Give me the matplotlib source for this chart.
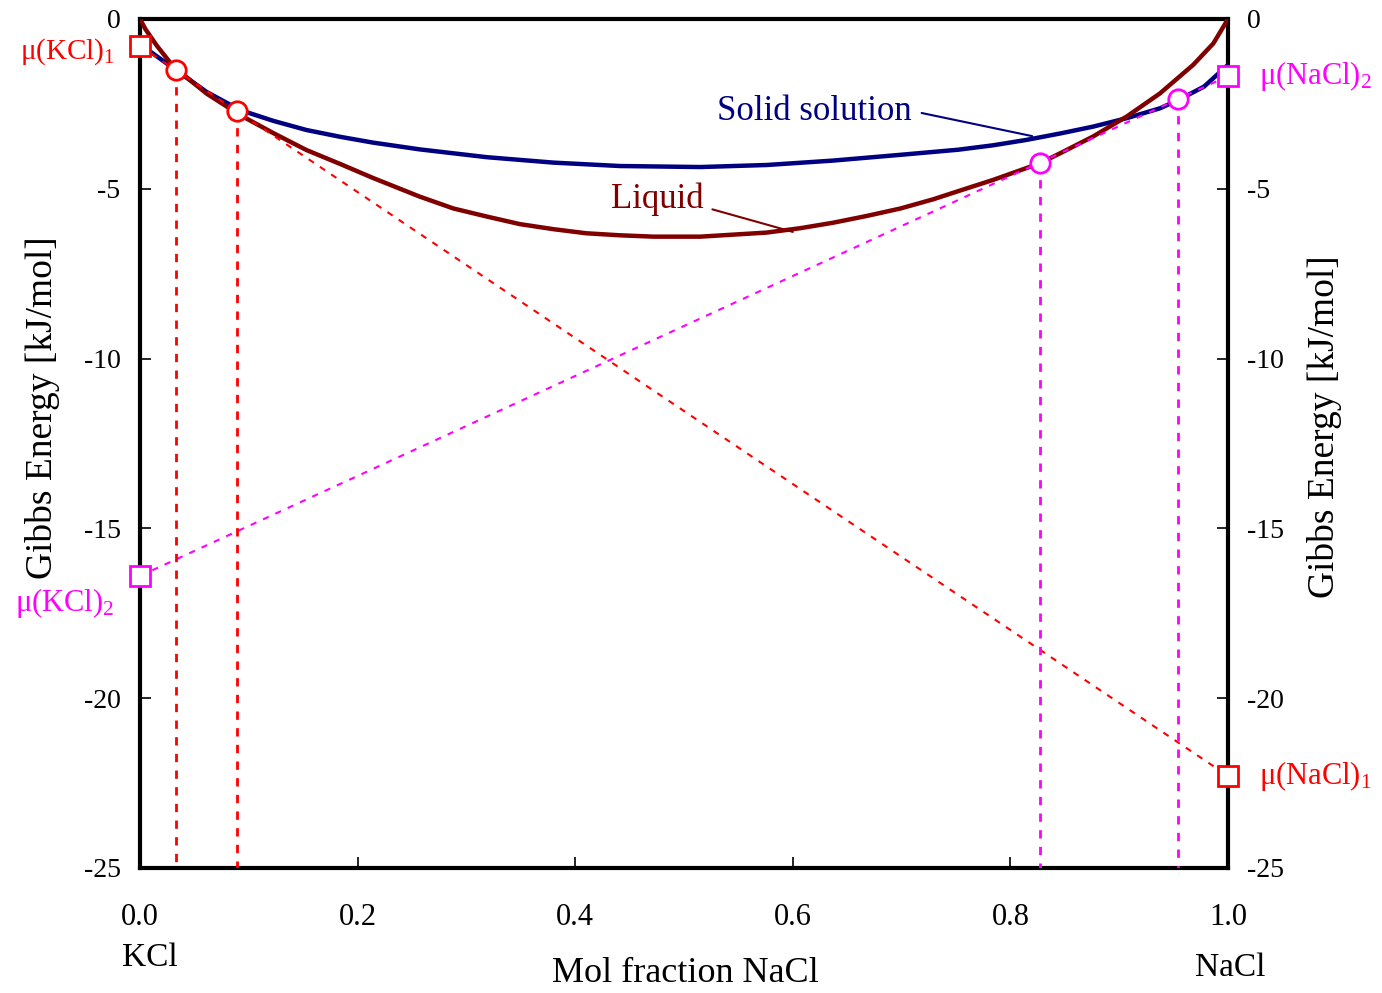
import numpy as np
import matplotlib
matplotlib.use("Agg")
import matplotlib.pyplot as plt

plt.rcParams['font.family'] = ['Liberation Serif', 'DejaVu Serif']
plt.rcParams['mathtext.fontset'] = 'custom'
plt.rcParams['mathtext.rm'] = 'Liberation Serif'
plt.rcParams['mathtext.it'] = 'Liberation Serif:italic'
plt.rcParams['axes.unicode_minus'] = False

# Liquid curve
x_liq = [0, 0.005, 0.0153, 0.0306, 0.0613, 0.092, 0.1225, 0.153, 0.184, 0.214,
         0.257, 0.288, 0.319, 0.349, 0.38, 0.41, 0.441, 0.472, 0.515, 0.576,
         0.607, 0.637, 0.668, 0.699, 0.729, 0.752, 0.784, 0.827, 0.846, 0.876,
         0.907, 0.9375, 0.968, 0.9865, 1.0]
y_liq = [0, -0.30, -0.78, -1.40, -2.20, -2.83, -3.36, -3.86, -4.27, -4.68,
         -5.23, -5.58, -5.82, -6.04, -6.19, -6.31, -6.37, -6.41, -6.41, -6.29,
         -6.16, -6.00, -5.80, -5.58, -5.31, -5.07, -4.74, -4.25, -3.95, -3.46,
         -2.87, -2.19, -1.35, -0.72, 0]

# Solid solution curve
x_sol = [0, 0.009, 0.0306, 0.0613, 0.0919, 0.1225, 0.153, 0.184, 0.214, 0.257,
         0.3187, 0.38, 0.441, 0.515, 0.576, 0.637, 0.699, 0.752, 0.784, 0.815,
         0.846, 0.876, 0.907, 0.9375, 0.956, 0.978, 1.0]
y_sol = [-0.72, -0.95, -1.45, -2.15, -2.68, -3.00, -3.27, -3.47, -3.64, -3.84,
         -4.07, -4.23, -4.33, -4.36, -4.30, -4.17, -4.00, -3.85, -3.72, -3.56,
         -3.37, -3.17, -2.92, -2.63, -2.36, -1.99, -1.35]

# tangent points / chemical potentials
x_tan1 = [0.033, 0.089]
y_tan1 = [-1.50, -2.71]
x_tan2 = [0.827, 0.954]
y_tan2 = [-4.24, -2.36]
mu1 = [-0.80, -22.29]   # mu(KCl)1, mu(NaCl)1
mu2 = [-16.40, -1.68]   # mu(KCl)2, mu(NaCl)2

fig = plt.figure(figsize=(13.82, 9.93), dpi=100)
ax = fig.add_axes([0.1013, 0.1259, 0.7873, 0.855])

ax.plot(x_sol, y_sol, color='#000080', lw=3.2, zorder=3)
ax.plot(x_liq, y_liq, color='#800000', lw=3.2, zorder=3)

red = '#ff0000'
mag = '#ff00ff'
ax.plot([0, 1], mu1, color=red, lw=1.5, ls=(0, (3, 3.5)), zorder=4)
ax.plot([0, 1], mu2, color=mag, lw=1.5, ls=(0, (3, 3.5)), zorder=4)
for xv, yv in zip(x_tan1, y_tan1):
    ax.plot([xv, xv], [yv, -25], color=red, lw=2, ls=(0, (3, 3)), zorder=4)
for xv, yv in zip(x_tan2, y_tan2):
    ax.plot([xv, xv], [yv, -25], color=mag, lw=2, ls=(0, (3, 3)), zorder=4)

ax.plot(x_tan1, y_tan1, 'o', ms=14, mfc='white', mec=red, mew=2, zorder=5)
ax.plot(x_tan2, y_tan2, 'o', ms=14, mfc='white', mec=mag, mew=2, zorder=5)
ax.plot([0, 1], mu1, 's', ms=15, mfc='white', mec=red, mew=2, zorder=6, clip_on=False)
ax.plot([0, 1], mu2, 's', ms=15, mfc='white', mec=mag, mew=2, zorder=6, clip_on=False)

ax.set_xlim(0, 1)
ax.set_ylim(-25, 0)
ax.set_xticks([0, 0.2, 0.4, 0.6, 0.8, 1.0])
ax.set_xticklabels(['0.0', '0.2', '0.4', '0.6', '0.8', '1.0'])
ax.set_yticks([-25, -20, -15, -10, -5, 0])
ax.tick_params(axis='x', direction='in', length=8, width=1.2, labelsize=22, pad=25)
ax.tick_params(axis='y', direction='in', length=8, width=1.2, labelsize=20, pad=14,
               right=True, labelright=True)
for s in ax.spines.values():
    s.set_linewidth(3)

ax.text(-0.09, 0.542, 'Gibbs Energy [kJ/mol]', transform=ax.transAxes, rotation=90,
        ha='center', va='center', fontsize=27)
ax.text(1.089, 0.52, 'Gibbs Energy [kJ/mol]', transform=ax.transAxes, rotation=90,
        ha='center', va='center', fontsize=27)
ax.text(0.501, -0.124, 'Mol fraction NaCl', transform=ax.transAxes,
        ha='center', va='center', fontsize=26)
ax.text(0.0092, -0.106, 'KCl', transform=ax.transAxes, ha='center', va='center', fontsize=24)
ax.text(1.002, -0.118, 'NaCl', transform=ax.transAxes, ha='center', va='center', fontsize=24)

ax.text(-0.023, mu1[0] - 0.15, r'μ(KCl)$_1$', color=red, ha='right', va='center', fontsize=21,
        transform=ax.get_yaxis_transform())
ax.text(-0.069, mu2[0] - 0.8, r'μ(KCl)$_2$', color=mag, ha='center', va='center', fontsize=22,
        transform=ax.get_yaxis_transform())
ax.text(1.028, mu2[1], r'μ(NaCl)$_2$', color=mag, ha='left', va='center', fontsize=22,
        transform=ax.get_yaxis_transform())
ax.text(1.028, mu1[1], r'μ(NaCl)$_1$', color=red, ha='left', va='center', fontsize=22,
        transform=ax.get_yaxis_transform())

ax.annotate('Solid solution', xy=(0.82, -3.45), xytext=(0.62, -2.72),
            color='#000080', fontsize=25, ha='center', va='center',
            arrowprops=dict(arrowstyle='-', color='#000080', lw=1.5,
                            shrinkA=0, shrinkB=0, relpos=(1.05, 0.45)))
ax.annotate('Liquid', xy=(0.60, -6.27), xytext=(0.475, -5.31),
            color='#800000', fontsize=25, ha='center', va='center',
            arrowprops=dict(arrowstyle='-', color='#800000', lw=1.5,
                            shrinkA=0, shrinkB=0, relpos=(1.1, 0.2)))

fig.savefig('out.png', dpi=100)
